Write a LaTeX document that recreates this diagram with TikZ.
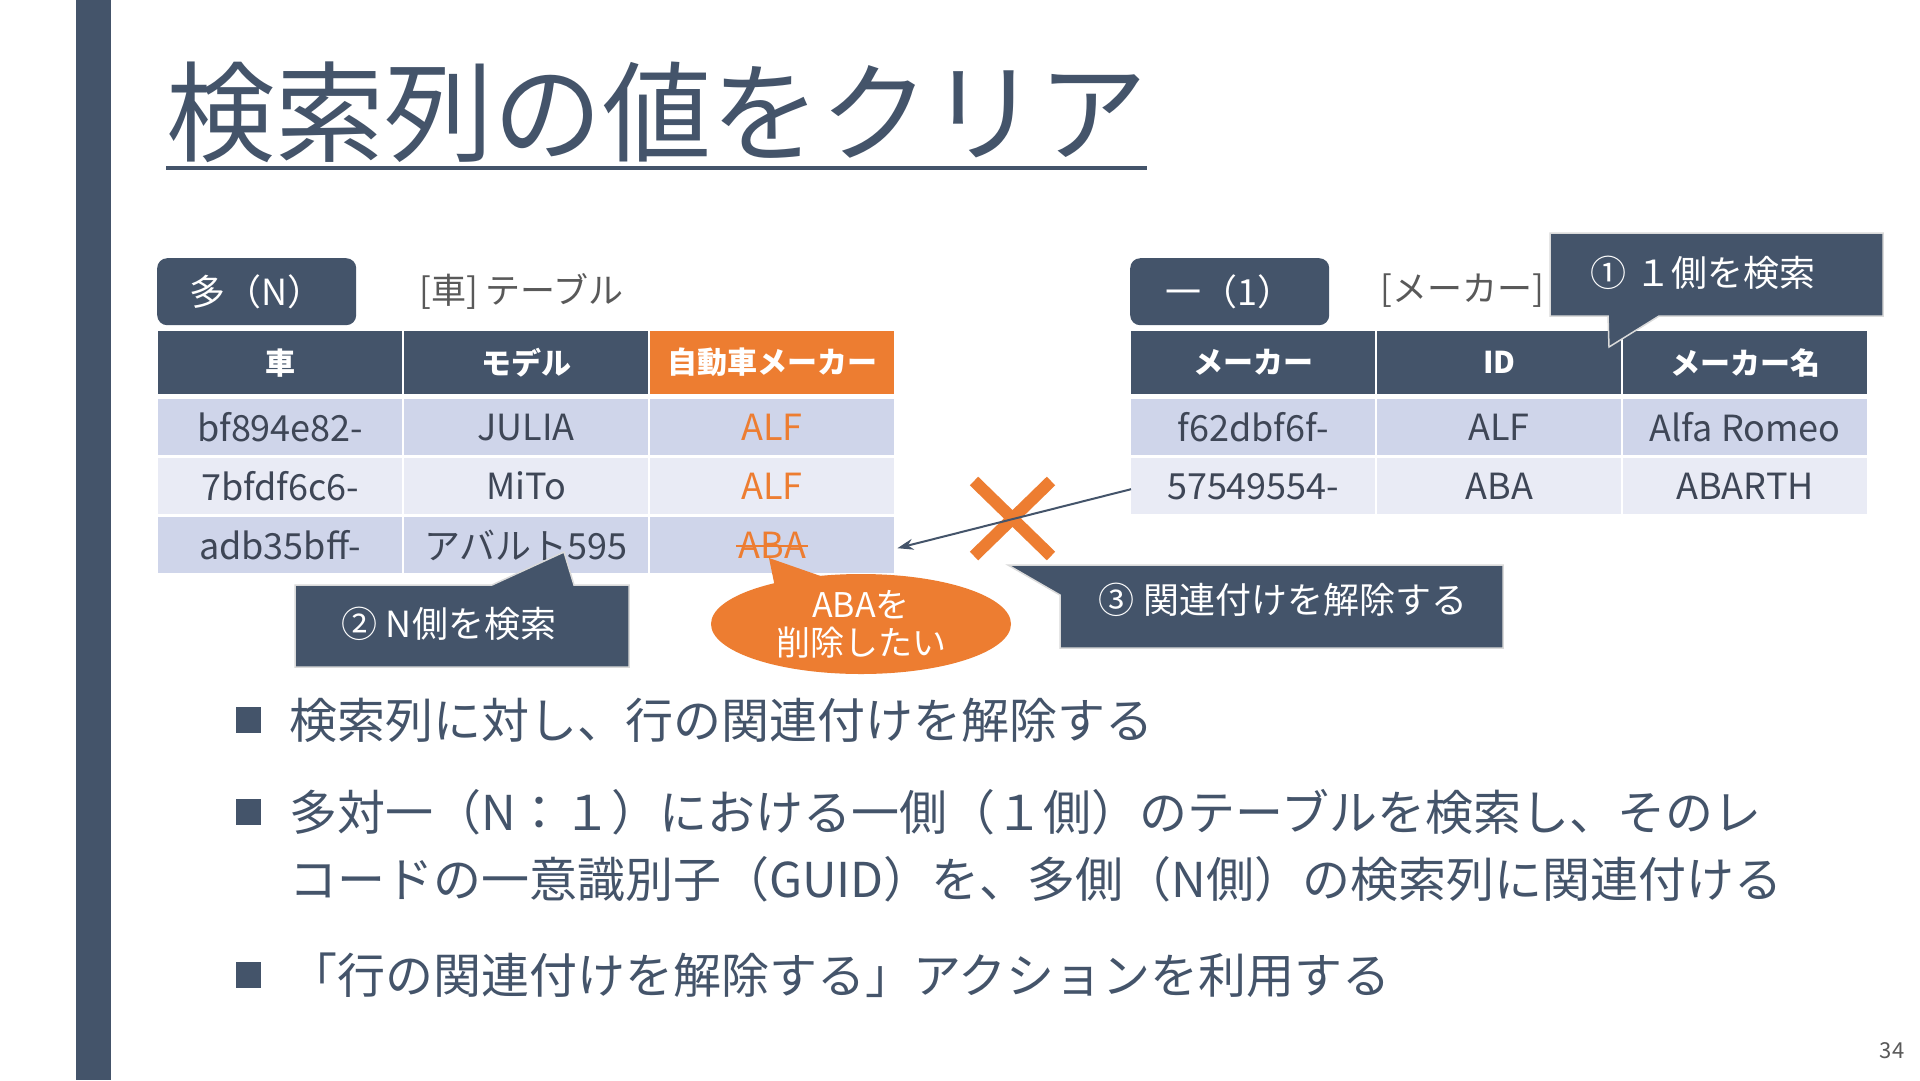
\documentclass[tikz,border=0pt]{standalone}
\usepackage{fontspec}
\setmainfont{Noto Sans CJK JP}
\usetikzlibrary{arrows.meta,calc}
\definecolor{slate}{HTML}{44546A}
\definecolor{orng}{HTML}{ED7D31}
\definecolor{rowA}{HTML}{CFD5EA}
\definecolor{rowB}{HTML}{E9EBF5}
\definecolor{txt}{HTML}{3E4656}
\definecolor{gtxt}{HTML}{595959}
\definecolor{glow}{HTML}{DADADA}
\newcommand{\fs}[1]{\fontsize{#1}{#1}\selectfont}
\begin{document}
\begin{tikzpicture}[x=1pt,y=-1pt,
  hdr/.style={anchor=north west, minimum width=244pt, minimum height=63pt, inner sep=0pt, fill=slate, text=white, font=\fs{30}\bfseries},
  hdro/.style={hdr, fill=orng},
  cellA/.style={anchor=north west, minimum width=244pt, minimum height=56pt, inner sep=0pt, fill=rowA, text=txt, font=\fs{36}},
  cellB/.style={cellA, fill=rowB},
  lblbox/.style={anchor=north west, minimum width=199pt, minimum height=67pt, inner sep=0pt, rounded corners=10pt, fill=slate, text=white, font=\fs{36}},
  lbltext/.style={anchor=west, inner sep=0pt, text=gtxt, font=\fs{35}},
  callout/.style={fill=slate, draw=glow, line width=1.5pt},
  ctext/.style={inner sep=0pt, text=white, font=\fs{36}},
  bul/.style={anchor=west, inner sep=0pt, text=slate, font=\fs{48}},
  bsq/.style={fill=slate}
]
\useasboundingbox[fill=white] (0,0) rectangle (1920,1080);
% left bar
\fill[slate] (76,0) rectangle (111,1080);
% title
\node[anchor=west, inner sep=0pt, text=slate, font=\fs{109}] (title) at (166,112) {検索列の値をクリア};
\draw[slate, line width=4pt] (title.south west |- 0,168) -- (title.south east |- 0,168);

% ---------- left table ----------
\node[lblbox] (lboxN) at (157,258) {多（N）};
\node[lbltext] (ltab) at (419,291) {[車] テーブル};

\node[hdr]  (lh1) at (158,331) {車};
\node[hdr]  (lh2) at (404,331) {モデル};
\node[hdro] (lh3) at (650,331) {自動車メーカー};

\node[cellA] (l11) at (158,399) {bf894e82-};
\node[cellA] (l12) at (404,399) {JULIA};
\node[cellA, text=orng] (l13) at (650,399) {ALF};
\node[cellB] (l21) at (158,458) {7bfdf6c6-};
\node[cellB] (l22) at (404,458) {MiTo};
\node[cellB, text=orng] (l23) at (650,458) {ALF};
\node[cellA] (l31) at (158,517) {adb35bff-};
\node[cellA] (l32) at (404,517) {アバルト595};
\node[cellA] (l33) at (650,517) {};
\node[inner sep=0pt, text=orng, font=\fs{36}] (aba) at (l33.center) {ABA};
\draw[orng, line width=2pt] ($(aba.west)+(-2,1)$) -- ($(aba.east)+(2,1)$);

% ---------- right table ----------
\node[lblbox] (lbox1) at (1130,258) {一（1）};
\node[lbltext] (rtab) at (1380,291) {[メーカー]};

\node[hdr] (rh1) at (1131,331) {メーカー};
\node[hdr] (rh2) at (1377,331) {ID};
\node[hdr] (rh3) at (1623,331) {メーカー名};

\node[cellA] (m11) at (1131,399) {f62dbf6f-};
\node[cellA] (m12) at (1377,399) {ALF};
\node[cellA] (m13) at (1623,399) {Alfa Romeo};
\node[cellB] (m21) at (1131,458) {57549554-};
\node[cellB] (m22) at (1377,458) {ABA};
\node[cellB] (m23) at (1623,458) {ABARTH};

% ---------- callout 1 ----------
\draw[callout] (1550,233) -- (1883,233) -- (1883,316) -- (1659,316) -- (1609,347) -- (1608,316) -- (1550,316) -- cycle;
\node[ctext] (c1) at (1703,273) {① １側を検索};

% ---------- callout 2 ----------
\draw[callout] (295,585) -- (492,585) -- (564,552) -- (574,585) -- (629,585) -- (629,667) -- (295,667) -- cycle;
\node[ctext] (c2) at (449,624) {② N側を検索};

% ---------- orange bubble ----------
\fill[orng] (861,624) ellipse [x radius=150, y radius=50];
\fill[orng] (776,592) -- (769,558) -- (832,580) -- cycle;
\node[inner sep=0pt, text=white, align=center, font=\fs{34}] (bub) at (861,624) {ABAを\\[4pt]削除したい};

% ---------- X mark ----------
\draw[orng, line width=12pt] (974,481) -- (1051,556) (1051,481) -- (974,556);

% ---------- arrow ----------
\draw[slate, line width=2pt, -{Stealth[length=16pt,width=11pt]}] ($(m21.west)+(0,3)$) -- ($(l33.east)+(3,3)$);

% ---------- callout 3 ----------
\draw[callout] (1060,565) -- (1503,565) -- (1503,648) -- (1060,648) -- (1060,595) -- (1008,565) -- cycle;
\node[ctext] (c3) at (1283,600) {③ 関連付けを解除する};

% ---------- bullets ----------
\fill[bsq] (236,707) rectangle (261,733);
\node[bul] (b1) at (289,720) {検索列に対し、行の関連付けを解除する};
\fill[bsq] (236,799) rectangle (261,825);
\node[bul] (b2a) at (289,812) {多対一（N：１）における一側（１側）のテーブルを検索し、そのレ};
\node[bul] (b2b) at (289,879) {コードの一意識別子（GUID）を、多側（N側）の検索列に関連付ける};
\fill[bsq] (236,962) rectangle (261,988);
\node[bul] (b3) at (289,975) {「行の関連付けを解除する」アクションを利用する};

% page number
\node[inner sep=0pt, text=gtxt, font=\fs{22}] (pg) at (1892,1051) {34};
\end{tikzpicture}
\end{document}
